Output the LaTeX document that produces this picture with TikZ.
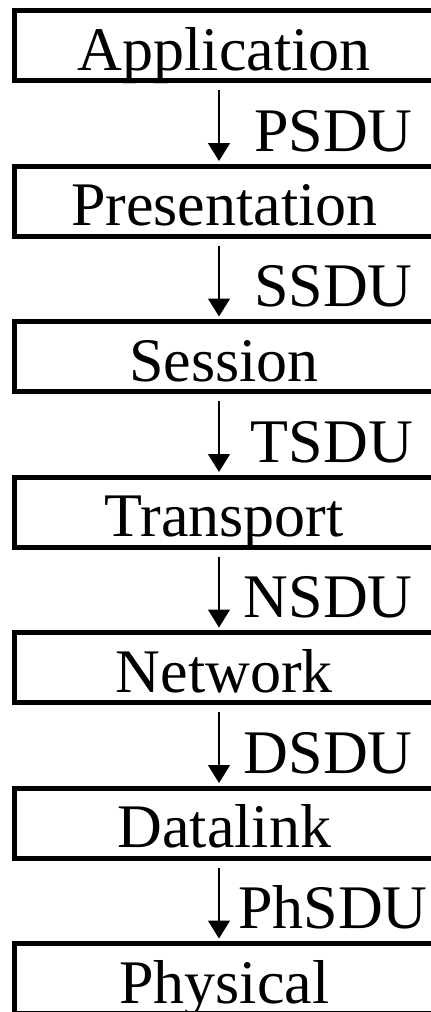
\documentclass[tikz,border=0pt]{standalone}
\usepackage{fontspec}
\setmainfont{Liberation Serif}
\usetikzlibrary{arrows.meta}
\tikzset{
	layer/.style={draw, line width=5pt, minimum width=419.5pt, minimum height=70pt, inner sep=0pt, text height=49pt, text depth=0pt, font=\fontsize{62}{62}\selectfont},
	sdu/.style={inner sep=0pt, anchor=base east, font=\fontsize{62}{62}\selectfont},
	down/.style={line width=1.5pt, -{Triangle[width=22pt,length=18pt]}, shorten <=7pt, shorten >=2.5pt}
}
\begin{document}
\begin{tikzpicture}[x=1pt, y=-1pt]
		%%%%% START %%%%%
		\useasboundingbox (0, 0) rectangle (431, 1012);
		
		\node[layer] (app) at (224.25, 45.5) {Application};
		\node[layer] (pres) at (224.25, 201) {Presentation};
		\node[layer] (sess) at (224.25, 356.5) {Session};
		\node[layer] (trans) at (224.25, 512) {Transport};
		\node[layer] (net) at (224.25, 667.5) {Network};
		\node[layer] (dl) at (224.25, 823) {Datalink};
		\node[layer] (phys) at (224.25, 978.5) {Physical};
		
		\coordinate (ax) at (219, 0);
		
		\node[sdu] (psdu) at (413, 151) {PSDU};
		\node[sdu] (ssdu) at (413, 306.5) {SSDU};
		\node[sdu] (tsdu) at (413, 462) {TSDU};
		\node[sdu] (nsdu) at (413, 617.5) {NSDU};
		\node[sdu] (dsdu) at (413, 773) {DSDU};
		\node[sdu] (phsdu) at (428, 928.5) {PhSDU};
		
		\draw[down] (app.south -| ax) -- (pres.north -| ax);
		\draw[down] (pres.south -| ax) -- (sess.north -| ax);
		\draw[down] (sess.south -| ax) -- (trans.north -| ax);
		\draw[down] (trans.south -| ax) -- (net.north -| ax);
		\draw[down] (net.south -| ax) -- (dl.north -| ax);
		\draw[down] (dl.south -| ax) -- (phys.north -| ax);
		
		%%%%% END %%%%%
	\end{tikzpicture}
\end{document}
